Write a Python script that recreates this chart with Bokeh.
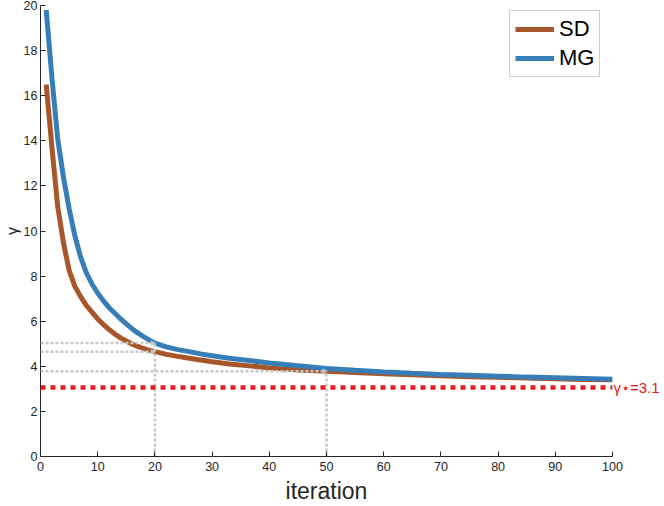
from bokeh.plotting import figure
from bokeh.models import Range1d, Arrow, OpenHead, Legend, LegendItem, Span, LinearAxis
from bokeh.embed import file_html
from bokeh.resources import INLINE

# ---- data ----
k = [1, 2, 3, 4, 5, 6, 7, 8, 9, 10, 11, 12, 13, 14, 15, 16, 17, 18, 19, 20,
     22, 24, 26, 28, 30, 33, 36, 40, 45, 50, 55, 60, 65, 70, 75, 80, 85, 90, 95, 100]
mg = [19.8, 16.8, 14.1, 12.4, 11.0, 9.8, 8.85, 8.15, 7.65, 7.25, 6.9, 6.6, 6.35, 6.1, 5.88,
      5.67, 5.48, 5.32, 5.17, 5.03, 4.86, 4.74, 4.65, 4.55, 4.47, 4.36, 4.27, 4.15, 4.02, 3.9,
      3.82, 3.75, 3.69, 3.64, 3.6, 3.56, 3.52, 3.49, 3.46, 3.43]
sd = [16.5, 13.7, 11.1, 9.5, 8.25, 7.55, 7.1, 6.7, 6.4, 6.1, 5.85, 5.63, 5.43, 5.26, 5.12,
      4.99, 4.88, 4.79, 4.71, 4.65, 4.53, 4.44, 4.36, 4.28, 4.2, 4.1, 4.03, 3.93, 3.84, 3.78,
      3.72, 3.67, 3.62, 3.58, 3.54, 3.51, 3.48, 3.45, 3.42, 3.4]
x_ticks = [0, 10, 20, 30, 40, 50, 60, 70, 80, 90, 100]
y_ticks = [0, 2, 4, 6, 8, 10, 12, 14, 16, 18, 20]
gamma_star = 3.06
gamma_star_text = "γ⋆=3.1"
guide_x = [20, 50]
guide_y20 = [5.03, 4.65]
guide_y50 = [3.78]
series_names = ["SD", "MG"]

FONT = "Liberation Sans"
TXT = "#262626"
BROWN = "#A65628"
BLUE = "#377EB8"
RED = "#E41A1C"
GRAY = "#c8c8c8"

p = figure(width=664, height=506, output_backend="svg", toolbar_location=None,
           x_range=Range1d(0, 100), y_range=Range1d(0, 20),
           min_border_left=39, min_border_right=52, min_border_top=5, min_border_bottom=48)
p.title.visible = False
p.grid.visible = False
p.outline_line_color = None
p.background_fill_color = "white"
p.border_fill_color = "white"

for ax, ticks in ((p.xaxis, x_ticks), (p.yaxis, y_ticks)):
    ax.ticker = ticks
    ax.major_tick_in = 5
    ax.major_tick_out = 0
    ax.minor_tick_line_color = None
    ax.axis_line_color = TXT
    ax.major_tick_line_color = TXT
    ax.major_label_text_font = FONT
    ax.major_label_text_font_size = "12.5px"
    ax.major_label_text_color = TXT
    ax.major_label_standoff = 5
    ax.axis_label_text_font = FONT
    ax.axis_label_text_font_style = "normal"
    ax.axis_label_text_color = TXT

p.yaxis.major_label_standoff = 3
p.xaxis.axis_label = "iteration"
p.xaxis.axis_label_text_font_size = "23px"
p.xaxis.axis_label_standoff = 4
p.yaxis.axis_label = "γ"
p.yaxis.axis_label_text_font_size = "16px"
p.yaxis.axis_label_standoff = 0

# right-hand axis used only to carry the gamma* annotation
rax = LinearAxis(ticker=[gamma_star], major_label_overrides={gamma_star: gamma_star_text})
rax.axis_line_color = None
rax.major_tick_line_color = None
rax.minor_tick_line_color = None
rax.major_tick_out = 0
rax.major_tick_in = 0
rax.major_label_standoff = 1
rax.major_label_text_font = FONT
rax.major_label_text_font_size = "15px"
rax.major_label_text_color = RED
p.add_layout(rax, "right")

# reference line gamma*
p.add_layout(Span(location=gamma_star, dimension="width", line_color=RED,
                  line_width=4.5, line_dash="5 5"))

r_sd = p.line(k, sd, line_color=BROWN, line_width=5)
r_mg = p.line(k, mg, line_color=BLUE, line_width=5)

# gray guide lines
p.segment(x0=[guide_x[0]], y0=[0], x1=[guide_x[0]], y1=[guide_y20[0]],
          line_color=GRAY, line_width=2.5, line_dash="3 2")
p.segment(x0=[guide_x[1]], y0=[0], x1=[guide_x[1]], y1=[guide_y50[0]],
          line_color=GRAY, line_width=2.5, line_dash="3 2")
for gx, gys in ((guide_x[0], guide_y20), (guide_x[1], guide_y50)):
    for gy in gys:
        p.add_layout(Arrow(x_start=0, y_start=gy, x_end=gx, y_end=gy,
                           line_color=GRAY, line_width=2.5, line_dash="3 2",
                           end=OpenHead(size=4, line_color=GRAY, line_width=1.5)))

legend = Legend(items=[LegendItem(label=series_names[0], renderers=[r_sd]),
                       LegendItem(label=series_names[1], renderers=[r_mg])],
                location=(469, 379))
legend.label_text_font = FONT
legend.label_text_font_size = "22px"
legend.label_text_color = "black"
legend.glyph_width = 39
legend.glyph_height = 26
legend.label_height = 26
legend.label_standoff = 5
legend.spacing = 3
legend.padding = 5
legend.margin = 0
legend.border_line_color = "#999999"
legend.border_line_width = 1
legend.background_fill_color = "white"
legend.background_fill_alpha = 1
p.add_layout(legend)

open("out.html", "w").write(file_html(p, INLINE))
